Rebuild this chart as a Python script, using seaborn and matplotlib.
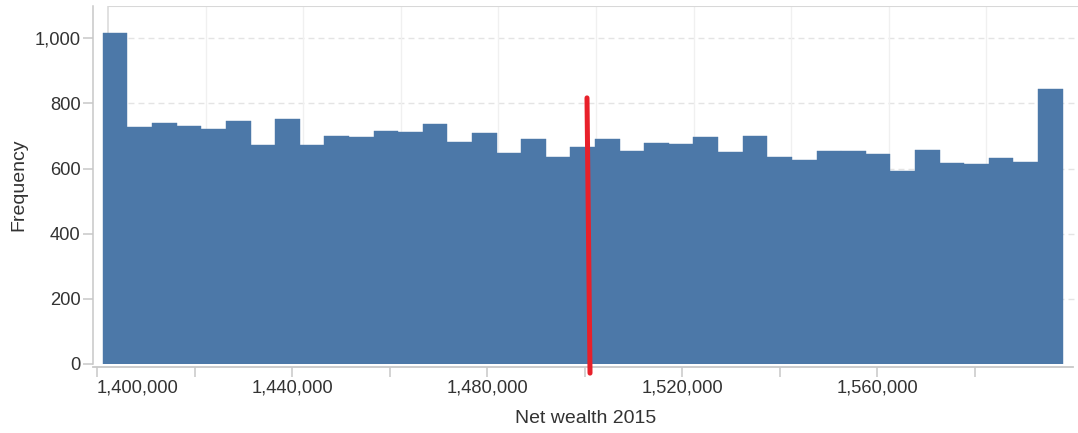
import matplotlib
matplotlib.use("Agg")
import matplotlib.pyplot as plt
import seaborn as sns
import numpy as np
import pandas as pd
from matplotlib.ticker import FuncFormatter, MultipleLocator

#%% Data
bin_start = 1401200
bin_width = 5045
counts = [1015, 727, 739, 732, 722, 747, 671, 751, 671, 700,
          696, 716, 712, 736, 683, 708, 648, 692, 636, 667,
          690, 653, 677, 676, 698, 650, 700, 634, 625, 655,
          654, 646, 591, 658, 616, 613, 631, 621, 844]
x_ticks = [1400000, 1420000, 1440000, 1460000, 1480000,
           1500000, 1520000, 1540000, 1560000, 1580000]
y_ticks = [0, 200, 400, 600, 800, 1000]
# hand drawn red marker line (start / end points)
red_line_x = [1500450, 1501070]
red_line_y = [817, -28]

edges = [bin_start + i * bin_width for i in range(len(counts) + 1)]
centers = [(a + b) / 2 for a, b in zip(edges[:-1], edges[1:])]
df = pd.DataFrame({"wealth": centers, "n": counts})

#%% Style
sns.set_style("white")
plt.rcParams["font.family"] = ["Liberation Sans", "DejaVu Sans"]
text_col = "#333333"
axis_col = "#c8c8c8"

fig = plt.figure(figsize=(10.78, 4.33), dpi=100)
W, H = 1078, 433
ax = fig.add_axes([93 / W, (H - 364) / H, (W - 93) / W, (364 - 5.7) / H])

xmin, xmax = 1399180, 1601107
ax.set_xlim(xmin, xmax)
ax.set_ylim(0, 1100)

#%% Background frame and grid (shifted like in the original)
frame_left = 1402300
ax.hlines(y_ticks[1:], frame_left, xmax, colors="#e4e4e4", lw=1,
          linestyles=(0, (4.3, 2.9)), zorder=0)
grid_x = [frame_left + 20000 * k for k in range(1, 10)]
ax.vlines(grid_x, 0, 1100, colors="#f0f0f0", lw=1, zorder=0)
ax.vlines([frame_left], 0, 1100, colors="#dcdcdc", lw=1.2, zorder=0)
ax.hlines([1098], frame_left, xmax, colors="#d8d8d8", lw=1.5, zorder=0)

#%% Histogram
sns.histplot(data=df, x="wealth", weights="n", bins=edges, ax=ax,
             color="#4c78a8", alpha=1, edgecolor="#4c78a8", linewidth=0.3,
             zorder=2)

ax.plot(red_line_x, red_line_y, color="#e8202a", lw=3.6, solid_capstyle="round",
        clip_on=False, zorder=5)

#%% Axes
for s in ["top", "right"]:
    ax.spines[s].set_visible(False)
ax.spines["left"].set_color(axis_col)
ax.spines["left"].set_linewidth(1.1)
ax.spines["bottom"].set_color(axis_col)
ax.spines["bottom"].set_linewidth(1.3)
ax.spines["bottom"].set_position(("outward", 2))
ax.spines["bottom"].set_bounds(xmin, 1600000)

ax.set_xticks(x_ticks)
ax.set_yticks(y_ticks)
ax.xaxis.set_major_formatter(FuncFormatter(
    lambda v, p: f"{int(v):,}" if int(v) % 40000 == 0 else ""))
ax.yaxis.set_major_formatter(FuncFormatter(lambda v, p: f"{int(v):,}"))
ax.tick_params(axis="both", bottom=True, left=True, colors=axis_col,
               labelcolor=text_col, labelsize=13.2, length=7, width=1.1,
               direction="out")
ax.tick_params(axis="x", pad=2)
ax.tick_params(axis="y", pad=2)
ax.xaxis.get_majorticklabels()[0].set_horizontalalignment("left")

ax.set_xlabel("Net wealth 2015", fontsize=14, color=text_col, labelpad=10)
ax.set_ylabel("Frequency", fontsize=14, color=text_col, labelpad=5)

fig.savefig("out.png", dpi=100)
